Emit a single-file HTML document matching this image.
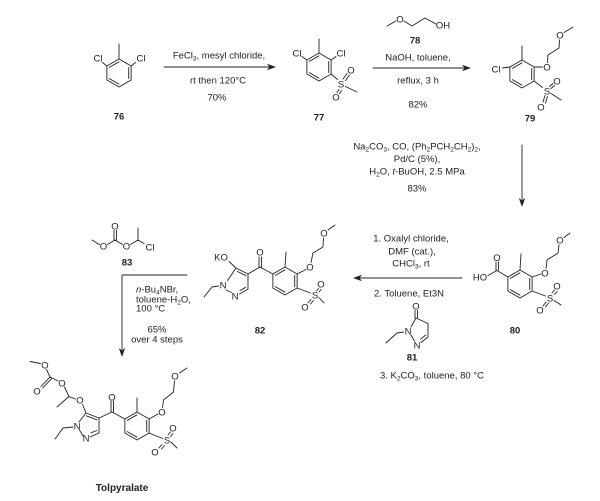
<!DOCTYPE html>
<html><head><meta charset="utf-8"><style>
html,body{margin:0;padding:0;background:#fff;}
svg{display:block;}
text{font-family:"Liberation Sans",Arial,sans-serif;font-size:9.5px;fill:#222;}
.a{text-anchor:middle;}
.m{text-anchor:middle;}
.b{font-weight:bold;text-anchor:middle;}
path,line{stroke:#222;stroke-width:0.9;fill:none;stroke-linecap:round;stroke-linejoin:round;}
.ah{fill:#222;stroke:none;}
</style></head><body>
<svg width="600" height="501" viewBox="0 0 600 501" xmlns="http://www.w3.org/2000/svg">
<defs>
<path id="bz" d="M0,-14 L12.12,-7 L12.12,7 L0,14 L-12.12,7 L-12.12,-7 Z M-9.7,-5.6 L0,-11.2 M9.7,-5.6 L9.7,5.6 M0,11.2 L-9.7,5.6"/>
</defs>

<!-- 76 -->
<use href="#bz" x="119" y="73"/>
<path d="M119,59 V44 M106.9,66 L102.5,62.5 M131.1,66 L135.5,62.5"/>
<text class="a" x="98" y="61.4">Cl</text>
<text class="a" x="141" y="61.4">Cl</text>
<text class="b" x="119" y="119.5">76</text>

<!-- arrow 1 -->
<path d="M164,67 H270"/>
<polygon class="ah" points="276,67 267,63.8 269.5,67 267,70.2"/>
<text class="m" x="219" y="58.5">FeCl<tspan font-size="6.5" dy="2">3</tspan><tspan dy="-2">, mesyl chloride,</tspan></text>
<text class="m" x="218" y="83.5">rt then 120°C</text>
<text class="m" x="217" y="100.5">70%</text>

<!-- 77 -->
<use href="#bz" x="319" y="67"/>
<path d="M319,53 V39 M306.9,60 L302,56.5 M331.1,60 L336,56.5"/>
<text class="a" x="297" y="56.4">Cl</text>
<text class="a" x="341" y="56.4">Cl</text>
<path d="M331.1,74 L337.5,79.5 M343,79 L347,73.5 M345.5,80.5 L349.5,75 M339,89.5 L337,92.5 M341.5,90.5 L339.5,93.5 M345.5,86.5 L357,92"/>
<text class="a" x="341" y="87.4">S</text>
<text class="a" x="351" y="73.4">O</text>
<text class="a" x="336" y="100.4">O</text>
<text class="b" x="319" y="120.5">77</text>

<!-- 78 -->
<path d="M387,26 L396,21 M404,21 L412,26 L425,18 L436,24"/>
<text class="a" x="400" y="22.4">O</text>
<text class="a" x="443" y="28.4">OH</text>
<text class="b" x="415" y="43.5">78</text>

<!-- arrow 2 -->
<path d="M373,68 H465"/>
<polygon class="ah" points="471,68 462,64.8 464.5,68 462,71.2"/>
<text class="m" x="418" y="60.5">NaOH, toluene,</text>
<text class="m" x="418" y="83.5">reflux, 3 h</text>
<text class="m" x="418" y="107.5">82%</text>

<!-- 79 -->
<use href="#bz" x="522" y="74"/>
<path d="M522,60 V46 M509.9,67 L502.5,68 M534.1,67 L542.5,67 M547.5,62.5 L548,55 L559,48 L559.5,40 M564,32.5 L573,27"/>
<text class="a" x="496" y="72.4">Cl</text>
<text class="a" x="547" y="70.4">O</text>
<text class="a" x="560" y="38.4">O</text>
<path d="M534.1,81 L542.5,87.5 M549.5,86.5 L553,83.5 M551,88.5 L554.5,85.5 M545,95.5 L543,102 M547.5,96.5 L545.5,103 M551,93.5 L561,100"/>
<text class="a" x="547" y="94.4">S</text>
<text class="a" x="557" y="84.4">O</text>
<text class="a" x="541" y="110.4">O</text>
<text class="b" x="530" y="121.5">79</text>

<!-- vertical arrow -->
<path d="M522,145 V200"/>
<polygon class="ah" points="522,207 518.8,198 522,200.5 525.2,198"/>
<text class="m" x="417" y="149.5">Na<tspan font-size="6.5" dy="2">2</tspan><tspan dy="-2">CO</tspan><tspan font-size="6.5" dy="2">3</tspan><tspan dy="-2">, CO, (Ph</tspan><tspan font-size="6.5" dy="2">2</tspan><tspan dy="-2">PCH</tspan><tspan font-size="6.5" dy="2">2</tspan><tspan dy="-2">CH</tspan><tspan font-size="6.5" dy="2">2</tspan><tspan dy="-2">)</tspan><tspan font-size="6.5" dy="2">2</tspan><tspan dy="-2">,</tspan></text>
<text class="m" x="417" y="162">Pd/C (5%),</text>
<text class="m" x="417" y="174.5">H<tspan font-size="6.5" dy="2">2</tspan><tspan dy="-2">O, </tspan><tspan font-style="italic">t</tspan>-BuOH, 2.5 MPa</text>
<text class="m" x="417" y="191.5">83%</text>

<!-- 80 -->
<use href="#bz" x="520" y="284"/>
<path d="M520,270 L521,254 M507.9,277 L497,270.5 M496,270.5 V262 M498.5,270 V262 M497,270.5 L488,275.5"/>
<text class="a" x="497" y="260.9">O</text>
<text class="a" x="480" y="280.4">HO</text>
<path d="M532.1,277 L541,274 M546,268.5 L547,260 L558,253 L559,245 M564,237.5 L570,233"/>
<text class="a" x="545" y="276.4">O</text>
<text class="a" x="560" y="243.4">O</text>
<path d="M532.1,291 L545.5,296 M552,293 L554.5,290 M554.5,294.5 L557,291.5 M546,302 L543,306 M548.5,303 L545.5,307 M554,300.5 L561,305"/>
<text class="a" x="550" y="301.4">S</text>
<text class="a" x="557" y="289.4">O</text>
<text class="a" x="540" y="313.4">O</text>
<text class="b" x="515" y="333.5">80</text>

<!-- left arrow -->
<path d="M462,278 H359"/>
<polygon class="ah" points="353,278 362,274.8 359.5,278 362,281.2"/>
<text class="m" x="411" y="241.5">1. Oxalyl chloride,</text>
<text class="m" x="412" y="254.5">DMF (cat.),</text>
<text class="m" x="411" y="266.5">CHCl<tspan font-size="6.5" dy="2">3</tspan><tspan dy="-2">, rt</tspan></text>
<text class="m" x="409" y="296.5">2. Toluene, Et3N</text>
<text class="m" x="432" y="378.5">3. K<tspan font-size="6.5" dy="2">2</tspan><tspan dy="-2">CO</tspan><tspan font-size="6.5" dy="2">3</tspan><tspan dy="-2">, toluene, 80 °C</tspan></text>

<!-- 81 -->
<path d="M415,318 V310.5 M417.5,318 V310.5 M416,318 L428,323.5 L428,337 L421,342.5 M425.8,335 L420.5,339.2 M414.5,341 L411,335 M411,327 L416,318 M403.5,332 L397,333 L386,343"/>
<text class="a" x="416" y="309.4">O</text>
<text class="a" x="408" y="334.4">N</text>
<text class="a" x="417" y="348.4">N</text>
<text class="b" x="412" y="360.5">81</text>

<!-- 82 -->
<use href="#bz" x="285" y="281"/>
<path d="M285,267 L286,252 M297.1,274 L306,269.5 M311,262.5 L313,253 L323,247 L323.5,238 M328,230 L335,225"/>
<text class="a" x="310" y="270.4">O</text>
<text class="a" x="324" y="236.4">O</text>
<path d="M297.1,288 L310.5,293 M316.5,291 L318.5,288.5 M319,292 L321,289.5 M311,299.5 L308,303 M313.5,300.5 L310.5,304 M319,297.5 L324,303"/>
<text class="a" x="315" y="298.4">S</text>
<text class="a" x="321" y="287.4">O</text>
<text class="a" x="305" y="310.4">O</text>
<path d="M272.9,274 L260,267 M259,267 V257 M261.5,267 V257 M260,267 L248,274"/>
<text class="a" x="260" y="255.4">O</text>
<path d="M248,274 L236,268 M248,274 V289 M236,268 L227.5,280.5 M226,290 L231.5,292.5 M239.5,294 L248,289 M245.9,275.7 L237.5,271.5 M245.7,287.3 L240,290.6 M236,268 L229,261.5 M218.5,286 L212,287 L204,297"/>
<text class="a" x="221" y="260.4">KO</text>
<text class="a" x="223" y="288.4">N</text>
<text class="a" x="235" y="299.4">N</text>
<text class="b" x="260" y="333.5">82</text>

<!-- 83 -->
<path d="M92,240 L99.5,244.5 M107.5,244.5 L115,240 M114,240 V230.5 M116.5,240 V230.5 M115,240 L122.5,244.5 M130.5,244.5 L138,240 M138,240 V228 M138,240 L144,243.5"/>
<text class="a" x="103.5" y="249.4">O</text>
<text class="a" x="115" y="229.4">O</text>
<text class="a" x="126.5" y="249.4">O</text>
<text class="a" x="150" y="250.4">Cl</text>
<text class="b" x="127" y="265.5">83</text>

<!-- L arrow -->
<path d="M187,275 H122 V350"/>
<polygon class="ah" points="122,357 118.8,348 122,350.5 125.2,348"/>
<text x="136" y="292.5"><tspan font-style="italic">n</tspan>-Bu<tspan font-size="6.5" dy="2">4</tspan><tspan dy="-2">NBr,</tspan></text>
<text x="136" y="302.5">toluene-H<tspan font-size="6.5" dy="2">2</tspan><tspan dy="-2">O,</tspan></text>
<text x="136" y="311.5">100 °C</text>
<text class="m" x="157" y="332.5">65%</text>
<text class="m" x="157" y="342.5">over 4 steps</text>

<!-- Tolpyralate -->
<use href="#bz" x="137" y="426"/>
<path d="M137,412 V398 M149.1,419 L158,414 M162.5,407.5 L163.5,400 L173.5,392 L174.5,381 M179.5,373 L187,368"/>
<text class="a" x="162" y="415.4">O</text>
<text class="a" x="175" y="379.4">O</text>
<path d="M149.1,433 L162.5,438.5 M168,435 L170.5,432 M170.5,436.5 L173,433.5 M162,444.5 L159,448 M164.5,445.5 L161.5,449 M171,442 L177,448"/>
<text class="a" x="167" y="443.4">S</text>
<text class="a" x="173" y="431.4">O</text>
<text class="a" x="155" y="455.4">O</text>
<path d="M124.9,419 L112,412 M111,412 V401 M113.5,412 V401 M112,412 L99,418"/>
<text class="a" x="112" y="400.4">O</text>
<path d="M99,418 L86,413 M99,418 V433 M99,433 L90,437 M83,436 L79.5,430 M79,422 L86,413 M96.9,419.8 L86.3,415.8 M96.9,430.5 L91,432.8"/>
<text class="a" x="77" y="429.4">N</text>
<text class="a" x="86" y="441.4">N</text>
<path d="M86,413 L82.5,404.5 M75.5,399 L69,396.5 M69,396.5 L57,407 M69,396.5 L64.5,387 M58,381 L50,377 M50,377 L41,386.5 M51.7,378.6 L42.7,388 M50,377 L46.5,369.5 M40.5,363.5 L30,361.5"/>
<text class="a" x="80" y="403.4">O</text>
<text class="a" x="62" y="386.4">O</text>
<text class="a" x="37" y="394.4">O</text>
<text class="a" x="45" y="368.4">O</text>
<path d="M73,427 L63,428 L55,439"/>
<text class="b" x="122" y="491" style="font-size:10px">Tolpyralate</text>
</svg>
</body></html>
